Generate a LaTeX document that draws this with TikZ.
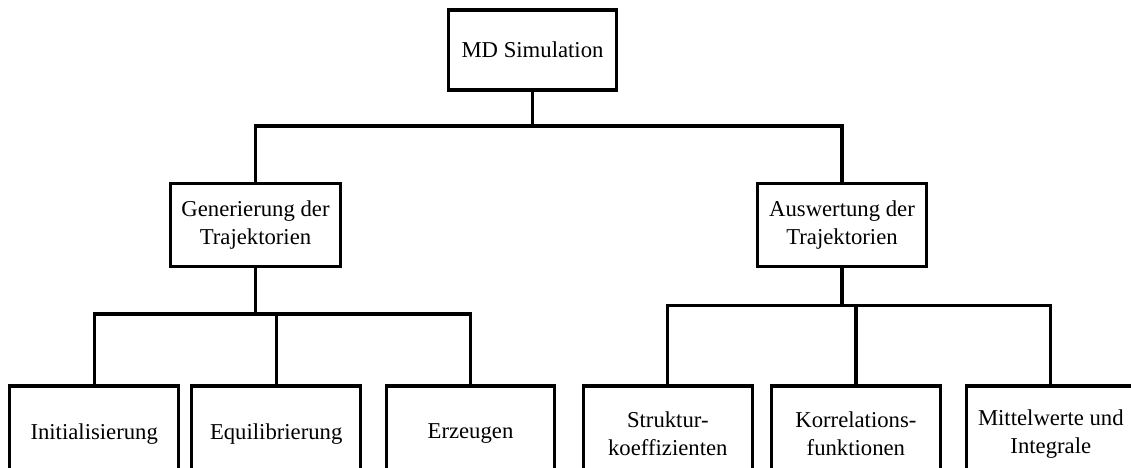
\documentclass[tikz,border=0pt]{standalone}
\usepackage{fontspec}
\setmainfont{Liberation Serif}
\begin{document}
\begin{tikzpicture}[x=1pt,y=-1pt,
  box/.style={draw=black, line width=3.2pt, fill=white, align=center, inner sep=0pt,
    font=\fontsize{22.7}{27.7}\selectfont},
  topbox/.style={box, minimum width=168.4pt, minimum height=80pt},
  midbox/.style={box, minimum width=169.3pt, minimum height=83.2pt},
  leafbox/.style={box, minimum width=168.7pt, minimum height=96pt},
  conn/.style={draw=black, line width=3.2pt, line join=miter}]
\useasboundingbox (0,0) rectangle (1131,467);
\clip (0,0) rectangle (1131,467);

\node[topbox] (md) at (532.5,50) {MD Simulation};
\node[midbox] (gen) at (255.5,225.1) {Generierung der\\Trajektorien};
\node[midbox] (aus) at (842,225.1) {Auswertung der\\Trajektorien};

\node[leafbox] (ini) at (94.2,434) {Initialisierung};
\node[leafbox] (equ) at (276.2,434) {Equilibrierung};
\node[leafbox] (erz) at (470.5,434) {Erzeugen};
\node[leafbox] (str) at (667.8,434) {Struktur-\\koeffizienten};
\node[leafbox] (kor) at (855.9,434) {Korrelations-\\funktionen};
\node[leafbox] (mit) at (1050.8,434) {Mittelwerte und\\Integrale};

\coordinate (b1) at (532.5,126);
\coordinate (b2) at (255.5,314);
\coordinate (b3) at (842,305.5);

\draw[conn] (md.south) -- (b1);
\draw[conn] (gen.north) |- (b1) -| (aus.north);

\draw[conn] (gen.south) -- (b2);
\draw[conn] (ini.north) |- (b2) -| (erz.north);
\draw[conn] (equ.north) -- (equ.north |- b2);

\draw[conn] (aus.south) -- (b3);
\draw[conn] (str.north) |- (b3) -| (mit.north);
\draw[conn] (kor.north) -- (kor.north |- b3);
\end{tikzpicture}
\end{document}
